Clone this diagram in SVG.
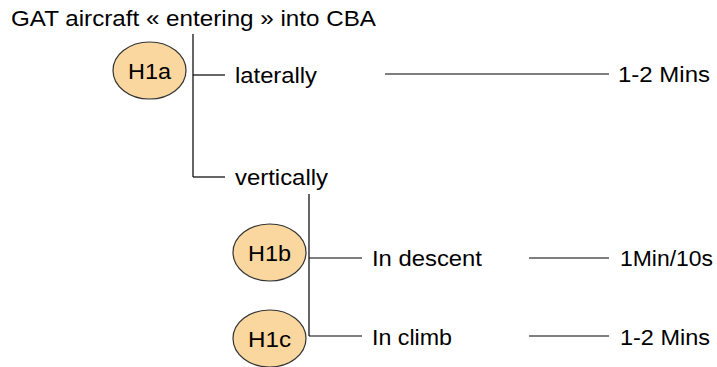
<svg xmlns="http://www.w3.org/2000/svg" width="717" height="367" viewBox="0 0 717 367">
  <style>
    text { font-family: "Liberation Sans", Arial, sans-serif; font-size: 22.5px; fill: #000; }
    .node ellipse { fill: #F9D79E; stroke: #333; stroke-width: 1.2; }
    .node text { text-anchor: middle; }
    #connectors line { stroke: #000; stroke-width: 1.2; }
  </style>
  <rect width="717" height="367" fill="#fff"/>

  <text x="11" y="26" textLength="365" lengthAdjust="spacingAndGlyphs">GAT aircraft « entering » into CBA</text>

  <g id="connectors">
    <line x1="193" y1="34" x2="193" y2="177"/>
    <line x1="193" y1="75" x2="225" y2="75"/>
    <line x1="193" y1="177" x2="225" y2="177"/>
    <line x1="385" y1="74" x2="609" y2="74"/>
    <line x1="309" y1="194" x2="309" y2="336"/>
    <line x1="309" y1="258" x2="362" y2="258"/>
    <line x1="309" y1="336" x2="362" y2="336"/>
    <line x1="529" y1="258" x2="609" y2="258"/>
    <line x1="529" y1="336" x2="609" y2="336"/>
  </g>

  <g id="H1a" class="node">
    <ellipse cx="149.5" cy="70.5" rx="36.5" ry="28.5"/>
    <text x="149.5" y="79" textLength="43" lengthAdjust="spacingAndGlyphs">H1a</text>
  </g>
  <g id="H1b" class="node">
    <ellipse cx="269.5" cy="252.5" rx="36.5" ry="28.5"/>
    <text x="269.5" y="261" textLength="43" lengthAdjust="spacingAndGlyphs">H1b</text>
  </g>
  <g id="H1c" class="node">
    <ellipse cx="269.5" cy="338.5" rx="36.5" ry="28.5"/>
    <text x="269.5" y="347" textLength="43" lengthAdjust="spacingAndGlyphs">H1c</text>
  </g>

  <g id="laterally"><text x="235" y="83" textLength="82" lengthAdjust="spacingAndGlyphs">laterally</text></g>
  <g id="vertically"><text x="235" y="185" textLength="93" lengthAdjust="spacingAndGlyphs">vertically</text></g>
  <g id="lateral-time"><text x="618" y="82" textLength="92" lengthAdjust="spacingAndGlyphs">1-2 Mins</text></g>
  <g id="descent"><text x="372" y="266" textLength="110" lengthAdjust="spacingAndGlyphs">In descent</text></g>
  <g id="descent-time"><text x="620" y="266" textLength="93" lengthAdjust="spacingAndGlyphs">1Min/10s</text></g>
  <g id="climb"><text x="372" y="345" textLength="80" lengthAdjust="spacingAndGlyphs">In climb</text></g>
  <g id="climb-time"><text x="620" y="345" textLength="90" lengthAdjust="spacingAndGlyphs">1-2 Mins</text></g>
</svg>
